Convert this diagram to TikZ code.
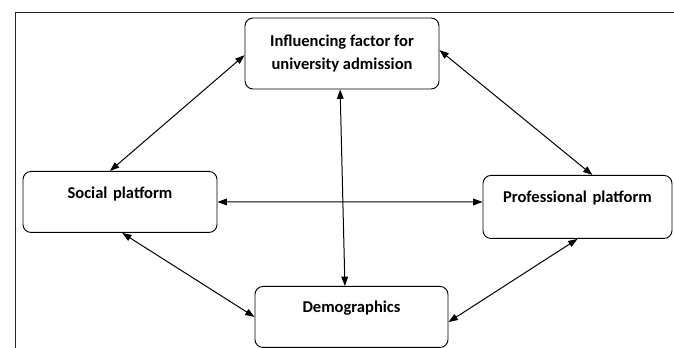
\documentclass[tikz,border=0pt]{standalone}
\usepackage{fontspec}
\setmainfont{Carlito}
\usetikzlibrary{arrows.meta}

\begin{document}
\begin{tikzpicture}[x=0.75pt, y=-0.75pt,
  box/.style={draw, line width=0.7pt, rounded corners=6pt, inner sep=0pt,
    align=center, font=\bfseries\fontsize{12.4}{17.2}\selectfont},
  link/.style={{Triangle[length=7pt,width=5pt]}-{Triangle[length=7pt,width=5pt]}, line width=0.75pt}]
\useasboundingbox (0,0) rectangle (674,348);
\draw[line width=1.1pt, black!85] (15.5,348) -- (15.5,12.5) -- (674,12.5);
\node[box, minimum width=145.5pt, minimum height=53.25pt] (infl) at (342,53.5)
  {Influencing factor for\\university admission};
\node[box, text width=145.5pt, text height=20.25pt, text depth=25.5pt, anchor=north] (social) at (120,171) {Social platform};
\node[box, text width=141.75pt, text height=20.25pt, text depth=27pt, anchor=north] (prof) at (577.5,175) {Professional platform};
\node[box, text width=144.75pt, text height=19.5pt, text depth=26.25pt, anchor=north] (demo) at (351.5,286) {Demographics};
\draw[link] (social.108) -- (infl.181);
\draw[link] (infl.2) -- (prof.65);
\draw[link] (infl.267) -- (demo.102);
\draw[link] (social.east) -- (prof.177);
\draw[link] (social.274) -- (demo.west);
\draw[link] (prof.south) -- (demo.357);
\end{tikzpicture}
\end{document}
